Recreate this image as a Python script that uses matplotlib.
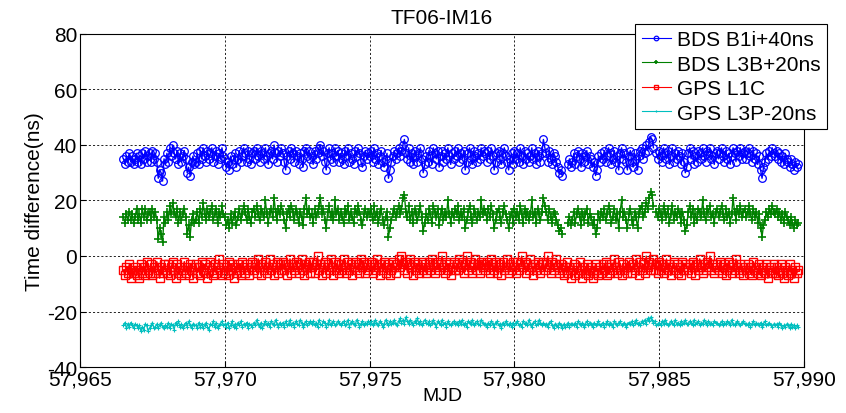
import numpy as np
import matplotlib.pyplot as plt
from matplotlib.ticker import FuncFormatter

plt.rcParams['font.family'] = ['Liberation Sans', 'DejaVu Sans']
plt.rcParams['axes.unicode_minus'] = False

nan = np.nan

# first epoch (MJD) and sampling step (day); one row below = one day
t0 = 57966.5
step = 0.05

# raw time differences (ns); offsets from the legend are added when plotting
bds_b1i = [
    -5, -7, -4, -6, -3, -6, -4, -7, -5, -3,
    -6, -4, -7, -3, -5, -2, -6, -4, -3, -6, -2, -5, -3, -6, -12, -9, -10, -13, -5, -7,
    -3, -6, -1, -4, 0, -3, -5, -2, -7, -3, -6, -4, -2, -5, -10, -8, -11, -6, -4, -7,
    -6, -3, -7, -2, -5, -1, -4, -6, -2, -5, -3, -1, -6, -4, -2, -7, -3, -5, -1, -4,
    -5, -8, -6, -9, -4, -7, -5, -3, -8, -5, -2, -6, -4, -1, -3, -6, -2, -5, -7, -3,
    -2, -5, -1, -4, -6, -2, -3, -5, -1, -4, -7, -3, -2, -5, 0, -3, -6, -2, -4, -1,
    -3, -6, -9, -4, -2, -5, -1, -3, -6, -2, -4, -7, -3, -5, -8, -2, -1, -4, -2, -5,
    -4, -7, -2, -5, -3, -1, 0, -4, -2, -6, -9, -3, -1, -5, -3, -6, -1, -4, -2, -6,
    -3, -5, -7, -2, -4, -1, -6, -3, -5, -7, -2, -4, -1, -3, -6, -8, -4, -2, -5, -3,
    -4, -2, -6, -1, -5, -3, -7, -4, -2, -6, -8, -5, -3, -12, -9, -6, -4, -2, -5, -3,
    -1, -4, -2, 0, 2, -3, -5, -1, -6, -3, -7, -2, -4, -6, -3, -1, -5, -10, -7, -4,
    -6, -2, -4, -7, -1, -3, -5, -2, -8, -4, -2, -6, -3, -5, -1, -4, -7, -3, -5, -2,
    -4, -1, -6, -3, -5, -2, -9, -6, -3, -1, -5, -7, -2, -4, -6, -3, -5, -1, -4, -2,
    -3, -6, -2, -5, -1, -4, -9, -6, -3, -2, -5, -7, -3, -1, -4, -6, -9, -5, -3, -7,
    -2, -5, -3, -6, -1, -4, -7, -2, -5, -3, -6, -4, -1, -5, -3, -7, -2, -4, -6, -3,
    2, -1, -3, -6, -2, -5, -7, -3, -4, -6, -8, -10, -9, -11, nan, nan, nan, -7, -5, -8,
    -6, -3, -7, -4, -2, -5, -8, -3, -6, -4, -2, -7, -4, -5, -8, -6, -11, -9, -4, -6,
    -3, -5, -2, -6, -4, -1, -3, -7, -5, -2, -6, -4, -9, -3, -1, -5, -3, -6, -9, -4,
    -2, -6, -8, -3, -5, -9, -4, -2, -1, -5, -3, 0, -2, 1, 3, 2, -1, nan, -3, -5,
    -2, -4, -6, -1, -3, -5, -2, -7, -4, -1, -6, -3, -5, -2, -4, -7, -3, -6, -10, -8,
    -3, -1, -5, -2, -7, -4, -6, -2, -3, -5, -1, -4, -6, -2, -3, -1, -5, -4, -7, -3,
    -2, -5, -3, -1, -4, -6, -2, -5, -3, -7, -4, -1, -3, -6, -2, -4, -1, -5, -3, -2,
    -5, -3, -1, -4, -6, -2, -5, -3, -7, -4, -9, -12, -8, -6, -3, -5, -2, -4, -1, -3,
    -4, -2, -5, -3, -6, -4, -7, -3, -5, -6, -8, -5, -7, -9, -6, -8, -7,
]

bds_l3b = [
    -6, -8, -5, -7, -4, -7, -5, -8, -6, -3,
    -7, -5, -8, -3, -6, -3, -7, -5, -4, -7, -3, -6, -4, -7, -14, -10, -12, -15, -6, -8,
    -4, -7, -2, -5, -1, -4, -6, -3, -8, -4, -7, -5, -3, -6, -12, -9, -13, -7, -5, -8,
    -7, -4, -8, -3, -6, -1, -5, -7, -3, -6, -4, -2, -7, -5, -3, -8, -4, -6, -2, -5,
    -6, -9, -7, -10, -5, -8, -6, -4, -9, -6, -3, -7, -5, -2, -4, -7, -3, -6, -8, -4,
    -3, -6, -2, -5, -7, -3, -4, -6, 0, -5, -8, -4, -3, -6, 1, -4, -7, -3, -5, -2,
    -4, -7, -10, -5, -3, -6, -2, -4, -7, -3, -5, -8, -4, -6, -9, -3, 1, -5, -3, -6,
    -5, -8, -3, -6, -4, -2, 1, -5, -3, -7, -10, -4, -2, -6, -4, -7, 0, -5, -3, -7,
    -4, -6, -8, -3, -5, -2, -7, -4, -6, -8, -3, -5, -2, -4, -7, -9, -5, -3, -6, -4,
    -5, -3, -7, -2, -6, -4, -8, -5, -3, -7, -9, -6, -4, -13, -10, -7, -5, -3, -6, -4,
    -2, -5, -3, 1, 2, -4, -6, -2, -7, -4, -8, -3, -5, -7, -4, -2, -6, -11, -8, -5,
    -7, -3, -5, -8, -2, -4, -6, -3, -9, -5, -3, -7, -4, -6, 0, -5, -8, -4, -6, -3,
    -5, -2, -7, -4, -6, -3, -10, -7, -4, -2, -6, -8, -3, -5, -7, -4, -6, 0, -5, -3,
    -4, -7, -3, -6, -2, -5, -10, -7, -4, -3, -6, -8, -4, -2, -5, -7, -10, -6, -4, -8,
    -3, -6, -4, -7, -2, -5, -8, -3, -6, -4, -7, -5, 0, -6, -4, -8, -3, -5, -7, -4,
    1, -2, -4, -7, -3, -6, -8, -4, -5, -7, -9, -11, -10, -12, nan, nan, nan, -8, -6, -9,
    -7, -4, -8, -5, -3, -6, -9, -4, -7, -5, -3, -8, -5, -6, -9, -7, -12, -10, -5, -7,
    -4, -6, -3, -7, -5, -2, -4, -8, -6, -3, -7, -5, -10, -4, 0, -6, -4, -7, -10, -5,
    -3, -7, -9, -4, -6, -10, -5, -3, -2, -6, -4, -1, -3, 1, 3, 2, -2, nan, -4, -6,
    -3, -5, -7, -2, -4, -6, -3, -8, -5, -2, -7, -4, -6, -3, -5, -8, -4, -7, -11, -9,
    -4, -2, -6, -3, -8, -5, -7, -3, -4, -6, 0, -5, -7, -3, -4, -2, -6, -5, -8, -4,
    -3, -6, -4, -2, -5, -7, -3, -6, -4, -8, -5, 1, -4, -7, -3, -5, -2, -6, -4, -3,
    -6, -4, -2, -5, -7, -3, -6, -4, -8, -5, -10, -13, -9, -7, -4, -6, -3, -5, -2, -4,
    -5, -3, -6, -4, -7, -5, -8, -4, -6, -7, -9, -6, -8, -10, -7, -9, -8,
]

gps_l1c = [
    -5, -7, -4, -6, -3, -8, -5, -6, -4, -7,
    -5, -8, -3, -6, -4, -7, -2, -5, -6, -3, -7, -4, -6, -2, -5, -8, -4, -6, -3, -5,
    -6, -3, -7, -4, -2, -5, -8, -3, -6, -4, -7, -5, -2, -6, -4, -7, -3, -5, -8, -4,
    -3, -6, -4, -7, -2, -5, -3, -6, -8, -4, -2, -5, -7, -3, -6, -4, -1, -5, -7, -3,
    -6, -4, -7, -2, -5, -3, -8, -4, -6, -3, -5, -7, -2, -4, -6, -3, -5, -7, -4, -2,
    -5, -3, -6, -1, -4, -7, -3, -5, -2, -6, -4, -1, -5, -3, -7, -4, -2, -6, -3, -5,
    -2, -5, -3, -7, -4, -1, -6, -3, -5, -2, -4, -6, -3, -1, -5, -7, -3, -4, -2, -6,
    -4, -2, -6, -3, 0, -5, -3, -7, -4, -2, -6, -3, -5, -1, -4, -7, -2, -5, -3, -6,
    -3, -5, -1, -4, -6, -2, -5, -3, -7, -4, -2, -5, -3, -6, -1, -4, -2, -6, -3, -5,
    -4, -2, -6, -3, -5, -1, -4, -7, -3, -5, -2, -6, -4, -3, -7, -5, -2, -4, -6, -3,
    -1, -4, 0, -3, -5, -2, -6, -3, -1, -4, -7, -2, -5, -3, -6, -4, -2, -5, -3, -6,
    -4, -2, -5, -1, -3, -6, -4, -2, -5, -3, 0, -4, -6, -2, -5, -3, -7, -4, -2, -5,
    -3, -5, -1, -4, -2, -6, -3, 0, -5, -2, -4, -6, -3, -1, -5, -3, -6, -2, -4, -3,
    -5, -2, -4, -6, -1, -3, -5, -2, -6, -4, -3, -7, -2, -5, -4, -1, -6, -3, -5, -2,
    -4, -6, -2, -5, -3, 0, -4, -2, -6, -3, -5, -1, -4, -7, -3, -5, -2, -4, -6, -3,
    -2, -5, -3, 0, -4, -6, -2, -5, -3, -1, -4, -6, -3, -5, -7, -4, -2, -6, -4, -8,
    -5, -3, -7, -4, -6, -2, -5, -8, -4, -6, -3, -7, -5, -4, -8, -6, -3, -5, -7, -4,
    -6, -3, -5, -2, -7, -4, -6, -3, -5, -1, -4, -6, -2, -5, -7, -3, -5, -4, -6, -2,
    -4, -6, -3, -5, -1, -4, -7, -2, -5, -3, -6, 0, -4, -2, -5, -3, -1, -5, -3, -6,
    -2, -5, -3, -6, -4, -1, -5, -3, -7, -4, -2, -5, -3, -6, -4, -7, -2, -5, -3, -4,
    -5, -3, -6, -2, -4, -7, -3, -5, -1, -4, -6, -3, -5, -2, -4, 0, -5, -3, -6, -4,
    -3, -5, -2, -6, -4, -3, -7, -5, -2, -4, -6, -3, -5, -1, -4, -6, -3, -5, -7, -4,
    -5, -3, -6, -4, -7, -2, -5, -4, -6, -3, -7, -5, -4, -6, -3, -8, -5, -4, -6, -3,
    -6, -4, -7, -5, -3, -6, -8, -4, -5, -7, -3, -6, -5, -8, -4, -6, -5,
]

gps_l3p = [
    -5, -4, -6, -4.5, -5.5, -4, -5, -6, -4.5, -5,
    -6, -5, -7, -5.5, -6.5, -4.5, -5, -7, -6, -5, -4, -6, -5.5, -4.5, -6, -5, -4, -5.5, -6, -5,
    -5.5, -4, -6, -4.5, -5, -6.5, -4, -5, -3.5, -5.5, -4.5, -6, -5, -4, -5.5, -3.5, -5, -6, -4.5, -5,
    -5, -6, -4, -5.5, -4.5, -6, -5, -4, -5.5, -6.5, -4.5, -5, -3.5, -5.5, -4, -6, -5, -4.5, -3.5, -5,
    -4.5, -5.5, -4, -6, -5, -3.5, -5.5, -4.5, -6, -4, -5, -3.5, -5.5, -4.5, -5, -4, -6, -4.5, -5, -5.5,
    -4, -5, -3, -4.5, -5.5, -4, -6, -4.5, -3.5, -5, -4, -5.5, -3.5, -4.5, -5, -3, -4.5, -5.5, -4, -5,
    -4, -5.5, -3.5, -5, -4.5, -3, -5, -4, -5.5, -3.5, -4.5, -5, -3, -4, -5.5, -4.5, -3.5, -5, -4, -3.5,
    -4.5, -3.5, -5, -4, -5.5, -3, -4.5, -5, -3.5, -4, -5.5, -4.5, -3, -5, -4, -3.5, -5, -4.5, -3.5, -4,
    -5, -4, -3.5, -5, -4.5, -3, -5.5, -4, -3.5, -4.5, -5, -3, -4, -5.5, -4.5, -3.5, -5, -4, -4.5, -3.5,
    -4.5, -3.5, -5, -4, -3, -4.5, -5, -3.5, -4, -5.5, -4.5, -3, -4, -5, -3.5, -4.5, -4, -3, -4.5, -5,
    -3.5, -2.5, -4, -3, -4.5, -2, -3.5, -4.5, -3, -4, -5, -3.5, -4, -2.5, -4.5, -3.5, -5, -4, -3, -4,
    -4.5, -3.5, -5, -4, -3, -4.5, -5.5, -3.5, -4, -5, -3, -4.5, -4, -5.5, -3.5, -4.5, -5, -4, -3.5, -4.5,
    -4, -5, -3.5, -4.5, -3, -5, -4, -5.5, -3.5, -4, -4.5, -3, -5, -4, -3.5, -4.5, -5, -3, -4, -4.5,
    -4.5, -5.5, -4, -5, -3.5, -4.5, -5.5, -4, -3.5, -5, -4.5, -6, -4, -5, -3.5, -4.5, -5, -4, -5.5, -4,
    -5, -4, -3.5, -5, -4.5, -5.5, -3.5, -4.5, -4, -5, -3, -4.5, -5.5, -4, -3.5, -5, -4.5, -3, -4, -5,
    -4, -5, -4.5, -5.5, -4, -3.5, -5, -6, -4.5, -5, -5.5, -4, -5, -6, -4.5, -5.5, -5, -4, -5.5, -4.5,
    -4.5, -5, -4, -5.5, -3.5, -4.5, -5, -4, -5.5, -4.5, -3.5, -5, -4, -4.5, -5.5, -4, -5, -4.5, -3.5, -5,
    -5, -4, -5.5, -4.5, -3.5, -5, -4, -4.5, -5.5, -3.5, -4.5, -5, -4, -3.5, -5, -4.5, -4, -5.5, -4.5, -4,
    -4.5, -3.5, -5, -4, -3, -4.5, -4, -5, -3.5, -4, -3, -4.5, -2.5, -3.5, -2, -3, -4, -3.5, -5, -4.5,
    -4, -5, -3.5, -4.5, -3, -4, -5, -4.5, -3.5, -4, -5, -3, -4.5, -4, -5, -3.5, -4.5, -4, -3, -4.5,
    -4.5, -3.5, -4, -5, -3, -4.5, -4, -3.5, -5, -4, -4.5, -3, -4, -5, -3.5, -4.5, -4, -5, -3.5, -4,
    -4, -5, -4.5, -3.5, -5, -4, -4.5, -3.5, -4, -5, -3, -4.5, -5, -4, -3.5, -4.5, -5, -4, -3.5, -4.5,
    -4.5, -5, -4, -5.5, -4.5, -3.5, -5, -4, -4.5, -5, -4, -5.5, -4.5, -3.5, -5, -4.5, -4, -5, -5.5, -4.5,
    -5, -4.5, -5.5, -4, -5, -6, -5, -5.5, -4.5, -5, -6, -4.5, -5.5, -5, -6, -5, -5.5,
]


def epochs(values):
    return t0 + step * np.arange(len(values))


fig = plt.figure(figsize=(8.46, 4.14), dpi=100)
ax = fig.add_axes([0.0946, 0.1111, 0.8558, 0.8044])

ax.plot(epochs(bds_b1i), np.array(bds_b1i) + 40, '-o', color='blue', lw=1.0,
        ms=5.5, mfc='none', mew=0.9, label='BDS B1i+40ns')
ax.plot(epochs(bds_l3b), np.array(bds_l3b) + 20, '-+', color='green', lw=1.0,
        ms=6, mew=1.2, label='BDS L3B+20ns')
ax.plot(epochs(gps_l1c), np.array(gps_l1c), '-s', color='red', lw=1.0,
        ms=5.5, mfc='none', mew=1.0, label='GPS L1C')
ax.plot(epochs(gps_l3p), np.array(gps_l3p) - 20, '-+', color='c', lw=0.9,
        ms=3.5, mew=0.8, label='GPS L3P-20ns')

ax.set_xlim(57965, 57990)
ax.set_ylim(-40, 80)
ax.set_xticks(np.arange(57965, 57991, 5))
ax.set_yticks(np.arange(-40, 81, 20))
ax.xaxis.set_major_formatter(FuncFormatter(lambda v, p: f'{v:,.0f}'))
ax.grid(True, color='black', linestyle=(0, (2.5, 2.5)), linewidth=0.6)
ax.tick_params(direction='in', length=4, labelsize=15, pad=2)
for s in ax.spines.values():
    s.set_linewidth(0.8)

ax.set_title('TF06-IM16', fontsize=15, pad=8)
ax.set_xlabel('MJD', fontsize=14, labelpad=-1)
ax.set_ylabel('Time difference(ns)', fontsize=15, labelpad=2)

leg = ax.legend(loc='upper right', bbox_to_anchor=(827 / 846, 1 - 25 / 414),
                bbox_transform=fig.transFigure, fontsize=15, fancybox=False,
                edgecolor='black', framealpha=1, borderaxespad=0,
                handlelength=1.4, handletextpad=0.3, labelspacing=0.26,
                borderpad=0.3, markerscale=0.6)
leg.get_frame().set_linewidth(0.8)
for line in leg.get_lines():
    line.set_linewidth(0.8)

fig.savefig('out.png', dpi=100)
